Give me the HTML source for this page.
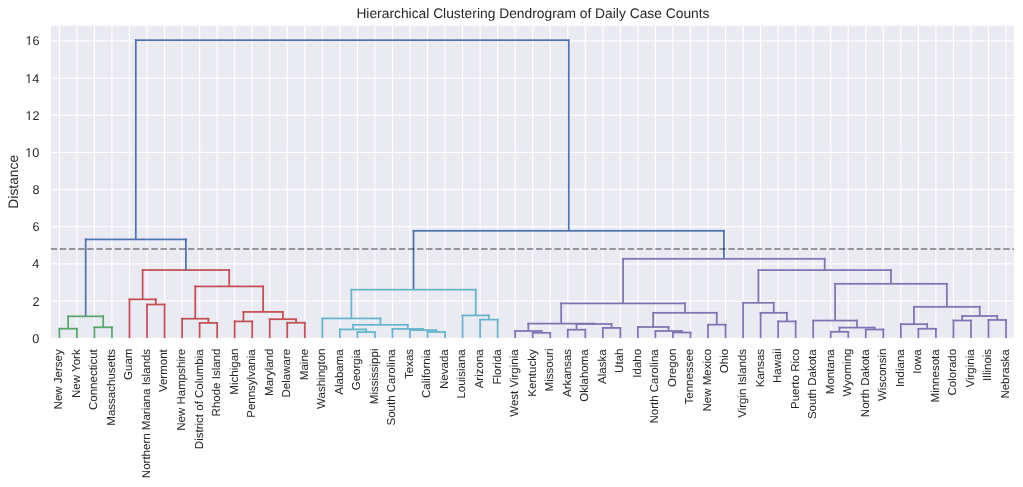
<!DOCTYPE html><html><head><meta charset="utf-8"><style>html,body{margin:0;padding:0;background:#fff;}svg{display:block;will-change:transform;}text{font-family:"Liberation Sans",sans-serif;fill:#262626;text-rendering:geometricPrecision;}</style></head><body>
<svg width="1023" height="487" viewBox="0 0 1023 487">
<rect x="0" y="0" width="1023" height="487" fill="#fff"/>
<defs><clipPath id="ax"><rect x="50.9" y="25.75" width="963.00" height="312.15"/></clipPath></defs>
<rect x="50.9" y="25.75" width="963.00" height="312.15" fill="#EAEAF2"/>
<g clip-path="url(#ax)"><g fill="#fff"><rect x="58.789" y="25.3" width="1.152" height="312.90"/><rect x="76.320" y="25.3" width="1.152" height="312.90"/><rect x="93.851" y="25.3" width="1.152" height="312.90"/><rect x="111.382" y="25.3" width="1.152" height="312.90"/><rect x="128.913" y="25.3" width="1.152" height="312.90"/><rect x="146.444" y="25.3" width="1.152" height="312.90"/><rect x="163.975" y="25.3" width="1.152" height="312.90"/><rect x="181.506" y="25.3" width="1.152" height="312.90"/><rect x="199.037" y="25.3" width="1.152" height="312.90"/><rect x="216.568" y="25.3" width="1.152" height="312.90"/><rect x="234.099" y="25.3" width="1.152" height="312.90"/><rect x="251.629" y="25.3" width="1.152" height="312.90"/><rect x="269.160" y="25.3" width="1.152" height="312.90"/><rect x="286.691" y="25.3" width="1.152" height="312.90"/><rect x="304.222" y="25.3" width="1.152" height="312.90"/><rect x="321.753" y="25.3" width="1.152" height="312.90"/><rect x="339.284" y="25.3" width="1.152" height="312.90"/><rect x="356.815" y="25.3" width="1.152" height="312.90"/><rect x="374.346" y="25.3" width="1.152" height="312.90"/><rect x="391.877" y="25.3" width="1.152" height="312.90"/><rect x="409.408" y="25.3" width="1.152" height="312.90"/><rect x="426.939" y="25.3" width="1.152" height="312.90"/><rect x="444.469" y="25.3" width="1.152" height="312.90"/><rect x="462.000" y="25.3" width="1.152" height="312.90"/><rect x="479.531" y="25.3" width="1.152" height="312.90"/><rect x="497.062" y="25.3" width="1.152" height="312.90"/><rect x="514.593" y="25.3" width="1.152" height="312.90"/><rect x="532.124" y="25.3" width="1.152" height="312.90"/><rect x="549.655" y="25.3" width="1.152" height="312.90"/><rect x="567.186" y="25.3" width="1.152" height="312.90"/><rect x="584.717" y="25.3" width="1.152" height="312.90"/><rect x="602.248" y="25.3" width="1.152" height="312.90"/><rect x="619.779" y="25.3" width="1.152" height="312.90"/><rect x="637.309" y="25.3" width="1.152" height="312.90"/><rect x="654.840" y="25.3" width="1.152" height="312.90"/><rect x="672.371" y="25.3" width="1.152" height="312.90"/><rect x="689.902" y="25.3" width="1.152" height="312.90"/><rect x="707.433" y="25.3" width="1.152" height="312.90"/><rect x="724.964" y="25.3" width="1.152" height="312.90"/><rect x="742.495" y="25.3" width="1.152" height="312.90"/><rect x="760.026" y="25.3" width="1.152" height="312.90"/><rect x="777.557" y="25.3" width="1.152" height="312.90"/><rect x="795.088" y="25.3" width="1.152" height="312.90"/><rect x="812.619" y="25.3" width="1.152" height="312.90"/><rect x="830.149" y="25.3" width="1.152" height="312.90"/><rect x="847.680" y="25.3" width="1.152" height="312.90"/><rect x="865.211" y="25.3" width="1.152" height="312.90"/><rect x="882.742" y="25.3" width="1.152" height="312.90"/><rect x="900.273" y="25.3" width="1.152" height="312.90"/><rect x="917.804" y="25.3" width="1.152" height="312.90"/><rect x="935.335" y="25.3" width="1.152" height="312.90"/><rect x="952.866" y="25.3" width="1.152" height="312.90"/><rect x="970.397" y="25.3" width="1.152" height="312.90"/><rect x="987.928" y="25.3" width="1.152" height="312.90"/><rect x="1005.459" y="25.3" width="1.152" height="312.90"/><rect x="50.6" y="337.624" width="964.20" height="1.152"/><rect x="50.6" y="300.464" width="964.20" height="1.152"/><rect x="50.6" y="263.304" width="964.20" height="1.152"/><rect x="50.6" y="226.144" width="964.20" height="1.152"/><rect x="50.6" y="188.984" width="964.20" height="1.152"/><rect x="50.6" y="151.824" width="964.20" height="1.152"/><rect x="50.6" y="114.664" width="964.20" height="1.152"/><rect x="50.6" y="77.504" width="964.20" height="1.152"/><rect x="50.6" y="40.344" width="964.20" height="1.152"/></g>
<g fill="#55A868"><rect x="58.50" y="327.84" width="19.26" height="1.73"/><rect x="58.50" y="327.84" width="1.73" height="10.36"/><rect x="76.03" y="327.84" width="1.73" height="10.36"/><rect x="93.56" y="326.44" width="19.26" height="1.73"/><rect x="93.56" y="326.44" width="1.73" height="11.76"/><rect x="111.09" y="326.44" width="1.73" height="11.76"/><rect x="67.27" y="315.44" width="36.79" height="1.73"/><rect x="67.27" y="315.44" width="1.73" height="13.26"/><rect x="102.33" y="315.44" width="1.73" height="11.86"/></g>
<g fill="#C44E52"><rect x="146.16" y="303.64" width="19.26" height="1.73"/><rect x="146.16" y="303.64" width="1.73" height="34.56"/><rect x="163.69" y="303.64" width="1.73" height="34.56"/><rect x="128.63" y="298.49" width="28.02" height="1.73"/><rect x="128.63" y="298.49" width="1.73" height="39.71"/><rect x="154.92" y="298.49" width="1.73" height="6.01"/><rect x="198.75" y="322.04" width="19.26" height="1.73"/><rect x="198.75" y="322.04" width="1.73" height="16.16"/><rect x="216.28" y="322.04" width="1.73" height="16.16"/><rect x="181.22" y="317.84" width="28.02" height="1.73"/><rect x="181.22" y="317.84" width="1.73" height="20.36"/><rect x="207.51" y="317.84" width="1.73" height="5.06"/><rect x="233.81" y="320.54" width="19.26" height="1.73"/><rect x="233.81" y="320.54" width="1.73" height="17.66"/><rect x="251.34" y="320.54" width="1.73" height="17.66"/><rect x="286.40" y="321.89" width="19.26" height="1.73"/><rect x="286.40" y="321.89" width="1.73" height="16.31"/><rect x="303.93" y="321.89" width="1.73" height="16.31"/><rect x="268.87" y="318.34" width="28.02" height="1.73"/><rect x="268.87" y="318.34" width="1.73" height="19.86"/><rect x="295.17" y="318.34" width="1.73" height="4.41"/><rect x="242.58" y="311.04" width="41.17" height="1.73"/><rect x="242.58" y="311.04" width="1.73" height="10.36"/><rect x="282.02" y="311.04" width="1.73" height="8.16"/><rect x="194.37" y="285.54" width="69.66" height="1.73"/><rect x="194.37" y="285.54" width="1.73" height="33.16"/><rect x="262.30" y="285.54" width="1.73" height="26.36"/><rect x="141.77" y="269.19" width="88.29" height="1.73"/><rect x="141.77" y="269.19" width="1.73" height="30.16"/><rect x="228.33" y="269.19" width="1.73" height="17.21"/></g>
<g fill="#4C72B0"><rect x="84.80" y="238.54" width="101.98" height="1.73"/><rect x="84.80" y="238.54" width="1.73" height="77.76"/><rect x="185.05" y="238.54" width="1.73" height="31.51"/><rect x="412.68" y="229.94" width="312.08" height="1.73"/><rect x="412.68" y="229.94" width="1.73" height="59.76"/><rect x="723.03" y="229.94" width="1.73" height="28.86"/><rect x="134.93" y="39.34" width="434.66" height="1.73"/><rect x="134.93" y="39.34" width="1.73" height="200.06"/><rect x="567.86" y="39.34" width="1.73" height="191.46"/></g>
<g fill="#64B5CD"><rect x="356.53" y="331.24" width="19.26" height="1.73"/><rect x="356.53" y="331.24" width="1.73" height="6.96"/><rect x="374.06" y="331.24" width="1.73" height="6.96"/><rect x="339.00" y="328.54" width="28.02" height="1.73"/><rect x="339.00" y="328.54" width="1.73" height="9.66"/><rect x="365.29" y="328.54" width="1.73" height="3.56"/><rect x="426.65" y="331.14" width="19.26" height="1.73"/><rect x="426.65" y="331.14" width="1.73" height="7.06"/><rect x="444.18" y="331.14" width="1.73" height="7.06"/><rect x="409.12" y="329.24" width="28.02" height="1.73"/><rect x="409.12" y="329.24" width="1.73" height="8.96"/><rect x="435.42" y="329.24" width="1.73" height="2.76"/><rect x="391.59" y="328.04" width="32.41" height="1.73"/><rect x="391.59" y="328.04" width="1.73" height="10.16"/><rect x="422.27" y="328.04" width="1.73" height="2.06"/><rect x="352.14" y="323.94" width="56.51" height="1.73"/><rect x="352.14" y="323.94" width="1.73" height="5.46"/><rect x="406.93" y="323.94" width="1.73" height="4.96"/><rect x="321.47" y="317.59" width="59.80" height="1.73"/><rect x="321.47" y="317.59" width="1.73" height="20.61"/><rect x="379.54" y="317.59" width="1.73" height="7.21"/><rect x="479.24" y="318.74" width="19.26" height="1.73"/><rect x="479.24" y="318.74" width="1.73" height="19.46"/><rect x="496.77" y="318.74" width="1.73" height="19.46"/><rect x="461.71" y="314.54" width="28.02" height="1.73"/><rect x="461.71" y="314.54" width="1.73" height="23.66"/><rect x="488.01" y="314.54" width="1.73" height="5.06"/><rect x="350.50" y="288.84" width="126.09" height="1.73"/><rect x="350.50" y="288.84" width="1.73" height="29.61"/><rect x="474.86" y="288.84" width="1.73" height="26.56"/></g>
<g fill="#8172B3"><rect x="531.84" y="331.94" width="19.26" height="1.73"/><rect x="531.84" y="331.94" width="1.73" height="6.26"/><rect x="549.37" y="331.94" width="1.73" height="6.26"/><rect x="514.31" y="330.14" width="28.02" height="1.73"/><rect x="514.31" y="330.14" width="1.73" height="8.06"/><rect x="540.60" y="330.14" width="1.73" height="2.66"/><rect x="566.90" y="328.84" width="19.26" height="1.73"/><rect x="566.90" y="328.84" width="1.73" height="9.36"/><rect x="584.43" y="328.84" width="1.73" height="9.36"/><rect x="601.96" y="327.04" width="19.26" height="1.73"/><rect x="601.96" y="327.04" width="1.73" height="11.16"/><rect x="619.49" y="327.04" width="1.73" height="11.16"/><rect x="575.66" y="323.14" width="36.79" height="1.73"/><rect x="575.66" y="323.14" width="1.73" height="6.56"/><rect x="610.73" y="323.14" width="1.73" height="4.76"/><rect x="527.45" y="322.74" width="67.47" height="1.73"/><rect x="527.45" y="322.74" width="1.73" height="8.26"/><rect x="593.19" y="322.74" width="1.73" height="1.26"/><rect x="672.08" y="331.64" width="19.26" height="1.73"/><rect x="672.08" y="331.64" width="1.73" height="6.56"/><rect x="689.61" y="331.64" width="1.73" height="6.56"/><rect x="654.55" y="330.14" width="28.02" height="1.73"/><rect x="654.55" y="330.14" width="1.73" height="8.06"/><rect x="680.85" y="330.14" width="1.73" height="2.36"/><rect x="637.02" y="326.14" width="32.41" height="1.73"/><rect x="637.02" y="326.14" width="1.73" height="12.06"/><rect x="667.70" y="326.14" width="1.73" height="4.86"/><rect x="707.15" y="323.79" width="19.26" height="1.73"/><rect x="707.15" y="323.79" width="1.73" height="14.41"/><rect x="724.68" y="323.79" width="1.73" height="14.41"/><rect x="652.36" y="311.94" width="65.28" height="1.73"/><rect x="652.36" y="311.94" width="1.73" height="15.06"/><rect x="715.91" y="311.94" width="1.73" height="12.71"/><rect x="560.32" y="302.54" width="125.54" height="1.73"/><rect x="560.32" y="302.54" width="1.73" height="21.06"/><rect x="684.14" y="302.54" width="1.73" height="10.26"/><rect x="777.27" y="320.54" width="19.26" height="1.73"/><rect x="777.27" y="320.54" width="1.73" height="17.66"/><rect x="794.80" y="320.54" width="1.73" height="17.66"/><rect x="759.74" y="311.94" width="28.02" height="1.73"/><rect x="759.74" y="311.94" width="1.73" height="26.26"/><rect x="786.03" y="311.94" width="1.73" height="9.46"/><rect x="742.21" y="301.94" width="32.41" height="1.73"/><rect x="742.21" y="301.94" width="1.73" height="36.26"/><rect x="772.89" y="301.94" width="1.73" height="10.86"/><rect x="829.86" y="330.94" width="19.26" height="1.73"/><rect x="829.86" y="330.94" width="1.73" height="7.26"/><rect x="847.39" y="330.94" width="1.73" height="7.26"/><rect x="864.92" y="328.64" width="19.26" height="1.73"/><rect x="864.92" y="328.64" width="1.73" height="9.56"/><rect x="882.45" y="328.64" width="1.73" height="9.56"/><rect x="838.63" y="326.74" width="36.79" height="1.73"/><rect x="838.63" y="326.74" width="1.73" height="5.06"/><rect x="873.69" y="326.74" width="1.73" height="2.76"/><rect x="812.33" y="319.69" width="45.56" height="1.73"/><rect x="812.33" y="319.69" width="1.73" height="18.51"/><rect x="856.16" y="319.69" width="1.73" height="7.91"/><rect x="917.52" y="327.89" width="19.26" height="1.73"/><rect x="917.52" y="327.89" width="1.73" height="10.31"/><rect x="935.05" y="327.89" width="1.73" height="10.31"/><rect x="899.99" y="323.34" width="28.02" height="1.73"/><rect x="899.99" y="323.34" width="1.73" height="14.86"/><rect x="926.28" y="323.34" width="1.73" height="5.41"/><rect x="952.58" y="319.64" width="19.26" height="1.73"/><rect x="952.58" y="319.64" width="1.73" height="18.56"/><rect x="970.11" y="319.64" width="1.73" height="18.56"/><rect x="987.64" y="319.09" width="19.26" height="1.73"/><rect x="987.64" y="319.09" width="1.73" height="19.11"/><rect x="1005.17" y="319.09" width="1.73" height="19.11"/><rect x="961.34" y="315.14" width="36.79" height="1.73"/><rect x="961.34" y="315.14" width="1.73" height="5.36"/><rect x="996.41" y="315.14" width="1.73" height="4.81"/><rect x="913.13" y="305.94" width="67.47" height="1.73"/><rect x="913.13" y="305.94" width="1.73" height="18.26"/><rect x="978.87" y="305.94" width="1.73" height="10.06"/><rect x="834.24" y="282.94" width="113.49" height="1.73"/><rect x="834.24" y="282.94" width="1.73" height="37.61"/><rect x="946.00" y="282.94" width="1.73" height="23.86"/><rect x="757.55" y="269.24" width="134.31" height="1.73"/><rect x="757.55" y="269.24" width="1.73" height="33.56"/><rect x="890.12" y="269.24" width="1.73" height="14.56"/><rect x="622.23" y="257.94" width="203.33" height="1.73"/><rect x="622.23" y="257.94" width="1.73" height="45.46"/><rect x="823.84" y="257.94" width="1.73" height="12.16"/></g>
<g fill="#000" fill-opacity="0.42"><rect x="50.60" y="248.136" width="6.39" height="1.728"/><rect x="59.76" y="248.136" width="6.39" height="1.728"/><rect x="68.92" y="248.136" width="6.39" height="1.728"/><rect x="78.08" y="248.136" width="6.39" height="1.728"/><rect x="87.24" y="248.136" width="6.39" height="1.728"/><rect x="96.40" y="248.136" width="6.39" height="1.728"/><rect x="105.56" y="248.136" width="6.39" height="1.728"/><rect x="114.72" y="248.136" width="6.39" height="1.728"/><rect x="123.88" y="248.136" width="6.39" height="1.728"/><rect x="133.04" y="248.136" width="6.39" height="1.728"/><rect x="142.20" y="248.136" width="6.39" height="1.728"/><rect x="151.36" y="248.136" width="6.39" height="1.728"/><rect x="160.52" y="248.136" width="6.39" height="1.728"/><rect x="169.68" y="248.136" width="6.39" height="1.728"/><rect x="178.84" y="248.136" width="6.39" height="1.728"/><rect x="188.00" y="248.136" width="6.39" height="1.728"/><rect x="197.16" y="248.136" width="6.39" height="1.728"/><rect x="206.32" y="248.136" width="6.39" height="1.728"/><rect x="215.48" y="248.136" width="6.39" height="1.728"/><rect x="224.64" y="248.136" width="6.39" height="1.728"/><rect x="233.80" y="248.136" width="6.39" height="1.728"/><rect x="242.96" y="248.136" width="6.39" height="1.728"/><rect x="252.12" y="248.136" width="6.39" height="1.728"/><rect x="261.28" y="248.136" width="6.39" height="1.728"/><rect x="270.44" y="248.136" width="6.39" height="1.728"/><rect x="279.60" y="248.136" width="6.39" height="1.728"/><rect x="288.76" y="248.136" width="6.39" height="1.728"/><rect x="297.92" y="248.136" width="6.39" height="1.728"/><rect x="307.08" y="248.136" width="6.39" height="1.728"/><rect x="316.24" y="248.136" width="6.39" height="1.728"/><rect x="325.40" y="248.136" width="6.39" height="1.728"/><rect x="334.56" y="248.136" width="6.39" height="1.728"/><rect x="343.72" y="248.136" width="6.39" height="1.728"/><rect x="352.88" y="248.136" width="6.39" height="1.728"/><rect x="362.04" y="248.136" width="6.39" height="1.728"/><rect x="371.20" y="248.136" width="6.39" height="1.728"/><rect x="380.36" y="248.136" width="6.39" height="1.728"/><rect x="389.52" y="248.136" width="6.39" height="1.728"/><rect x="398.68" y="248.136" width="6.39" height="1.728"/><rect x="407.84" y="248.136" width="6.39" height="1.728"/><rect x="417.00" y="248.136" width="6.39" height="1.728"/><rect x="426.16" y="248.136" width="6.39" height="1.728"/><rect x="435.32" y="248.136" width="6.39" height="1.728"/><rect x="444.48" y="248.136" width="6.39" height="1.728"/><rect x="453.64" y="248.136" width="6.39" height="1.728"/><rect x="462.80" y="248.136" width="6.39" height="1.728"/><rect x="471.96" y="248.136" width="6.39" height="1.728"/><rect x="481.12" y="248.136" width="6.39" height="1.728"/><rect x="490.28" y="248.136" width="6.39" height="1.728"/><rect x="499.44" y="248.136" width="6.39" height="1.728"/><rect x="508.60" y="248.136" width="6.39" height="1.728"/><rect x="517.76" y="248.136" width="6.39" height="1.728"/><rect x="526.92" y="248.136" width="6.39" height="1.728"/><rect x="536.08" y="248.136" width="6.39" height="1.728"/><rect x="545.24" y="248.136" width="6.39" height="1.728"/><rect x="554.40" y="248.136" width="6.39" height="1.728"/><rect x="563.56" y="248.136" width="6.39" height="1.728"/><rect x="572.72" y="248.136" width="6.39" height="1.728"/><rect x="581.88" y="248.136" width="6.39" height="1.728"/><rect x="591.04" y="248.136" width="6.39" height="1.728"/><rect x="600.20" y="248.136" width="6.39" height="1.728"/><rect x="609.36" y="248.136" width="6.39" height="1.728"/><rect x="618.52" y="248.136" width="6.39" height="1.728"/><rect x="627.68" y="248.136" width="6.39" height="1.728"/><rect x="636.84" y="248.136" width="6.39" height="1.728"/><rect x="646.00" y="248.136" width="6.39" height="1.728"/><rect x="655.16" y="248.136" width="6.39" height="1.728"/><rect x="664.32" y="248.136" width="6.39" height="1.728"/><rect x="673.48" y="248.136" width="6.39" height="1.728"/><rect x="682.64" y="248.136" width="6.39" height="1.728"/><rect x="691.80" y="248.136" width="6.39" height="1.728"/><rect x="700.96" y="248.136" width="6.39" height="1.728"/><rect x="710.12" y="248.136" width="6.39" height="1.728"/><rect x="719.28" y="248.136" width="6.39" height="1.728"/><rect x="728.44" y="248.136" width="6.39" height="1.728"/><rect x="737.60" y="248.136" width="6.39" height="1.728"/><rect x="746.76" y="248.136" width="6.39" height="1.728"/><rect x="755.92" y="248.136" width="6.39" height="1.728"/><rect x="765.08" y="248.136" width="6.39" height="1.728"/><rect x="774.24" y="248.136" width="6.39" height="1.728"/><rect x="783.40" y="248.136" width="6.39" height="1.728"/><rect x="792.56" y="248.136" width="6.39" height="1.728"/><rect x="801.72" y="248.136" width="6.39" height="1.728"/><rect x="810.88" y="248.136" width="6.39" height="1.728"/><rect x="820.04" y="248.136" width="6.39" height="1.728"/><rect x="829.20" y="248.136" width="6.39" height="1.728"/><rect x="838.36" y="248.136" width="6.39" height="1.728"/><rect x="847.52" y="248.136" width="6.39" height="1.728"/><rect x="856.68" y="248.136" width="6.39" height="1.728"/><rect x="865.84" y="248.136" width="6.39" height="1.728"/><rect x="875.00" y="248.136" width="6.39" height="1.728"/><rect x="884.16" y="248.136" width="6.39" height="1.728"/><rect x="893.32" y="248.136" width="6.39" height="1.728"/><rect x="902.48" y="248.136" width="6.39" height="1.728"/><rect x="911.64" y="248.136" width="6.39" height="1.728"/><rect x="920.80" y="248.136" width="6.39" height="1.728"/><rect x="929.96" y="248.136" width="6.39" height="1.728"/><rect x="939.12" y="248.136" width="6.39" height="1.728"/><rect x="948.28" y="248.136" width="6.39" height="1.728"/><rect x="957.44" y="248.136" width="6.39" height="1.728"/><rect x="966.60" y="248.136" width="6.39" height="1.728"/><rect x="975.76" y="248.136" width="6.39" height="1.728"/><rect x="984.92" y="248.136" width="6.39" height="1.728"/><rect x="994.08" y="248.136" width="6.39" height="1.728"/><rect x="1003.24" y="248.136" width="6.39" height="1.728"/><rect x="1012.40" y="248.136" width="2.40" height="1.728"/></g>
</g>
<text x="39.39" y="343" font-size="12.67" text-anchor="end">0</text>
<text x="39.54" y="306" font-size="12.67" text-anchor="end">2</text>
<text x="39.27" y="268" font-size="12.67" text-anchor="end">4</text>
<text x="39.46" y="231" font-size="12.67" text-anchor="end">6</text>
<text x="39.45" y="194" font-size="12.67" text-anchor="end">8</text>
<text x="39.39" y="157" font-size="12.67" text-anchor="end">10</text>
<rect x="26.000" y="156" width="2.488" height="1" fill="#fff"/>
<rect x="29.608" y="156" width="2.392" height="1" fill="#fff"/>
<text x="39.54" y="120" font-size="12.67" text-anchor="end">12</text>
<rect x="26.000" y="119" width="2.630" height="1" fill="#fff"/>
<rect x="29.750" y="119" width="2.250" height="1" fill="#fff"/>
<text x="39.27" y="83" font-size="12.67" text-anchor="end">14</text>
<rect x="26.000" y="82" width="2.364" height="1" fill="#fff"/>
<rect x="29.484" y="82" width="2.516" height="1" fill="#fff"/>
<text x="39.46" y="45" font-size="12.67" text-anchor="end">16</text>
<rect x="26.000" y="44" width="2.550" height="1" fill="#fff"/>
<rect x="29.670" y="44" width="2.330" height="1" fill="#fff"/>
<text transform="translate(62.28 349.28) rotate(-90)" font-size="11.52" text-anchor="end">New Jersey</text>
<text transform="translate(79.81 349.32) rotate(-90)" font-size="11.52" text-anchor="end">New York</text>
<text transform="translate(97.34 349.22) rotate(-90)" font-size="11.52" text-anchor="end">Connecticut</text>
<text transform="translate(114.87 348.88) rotate(-90)" font-size="11.52" text-anchor="end">Massachusetts</text>
<text transform="translate(132.40 348.54) rotate(-90)" font-size="11.52" text-anchor="end">Guam</text>
<text transform="translate(149.93 348.88) rotate(-90)" font-size="11.52" text-anchor="end">Northern Mariana Islands</text>
<text transform="translate(167.47 349.22) rotate(-90)" font-size="11.52" text-anchor="end">Vermont</text>
<text transform="translate(185.00 348.79) rotate(-90)" font-size="11.52" text-anchor="end">New Hampshire</text>
<text transform="translate(202.53 349.30) rotate(-90)" font-size="11.52" text-anchor="end">District of Columbia</text>
<text transform="translate(220.06 348.56) rotate(-90)" font-size="11.52" text-anchor="end">Rhode Island</text>
<text transform="translate(237.59 348.55) rotate(-90)" font-size="11.52" text-anchor="end">Michigan</text>
<text transform="translate(255.12 349.30) rotate(-90)" font-size="11.52" text-anchor="end">Pennsylvania</text>
<text transform="translate(272.65 348.56) rotate(-90)" font-size="11.52" text-anchor="end">Maryland</text>
<text transform="translate(290.18 348.79) rotate(-90)" font-size="11.52" text-anchor="end">Delaware</text>
<text transform="translate(307.71 348.79) rotate(-90)" font-size="11.52" text-anchor="end">Maine</text>
<text transform="translate(325.24 348.55) rotate(-90)" font-size="11.52" text-anchor="end">Washington</text>
<text transform="translate(342.77 349.30) rotate(-90)" font-size="11.52" text-anchor="end">Alabama</text>
<text transform="translate(360.31 349.30) rotate(-90)" font-size="11.52" text-anchor="end">Georgia</text>
<text transform="translate(377.84 348.52) rotate(-90)" font-size="11.52" text-anchor="end">Mississippi</text>
<text transform="translate(395.37 349.30) rotate(-90)" font-size="11.52" text-anchor="end">South Carolina</text>
<text transform="translate(412.90 348.88) rotate(-90)" font-size="11.52" text-anchor="end">Texas</text>
<text transform="translate(430.43 349.30) rotate(-90)" font-size="11.52" text-anchor="end">California</text>
<text transform="translate(447.96 349.30) rotate(-90)" font-size="11.52" text-anchor="end">Nevada</text>
<text transform="translate(465.49 349.30) rotate(-90)" font-size="11.52" text-anchor="end">Louisiana</text>
<text transform="translate(483.02 349.30) rotate(-90)" font-size="11.52" text-anchor="end">Arizona</text>
<text transform="translate(500.55 349.30) rotate(-90)" font-size="11.52" text-anchor="end">Florida</text>
<text transform="translate(518.08 349.30) rotate(-90)" font-size="11.52" text-anchor="end">West Virginia</text>
<text transform="translate(535.61 349.28) rotate(-90)" font-size="11.52" text-anchor="end">Kentucky</text>
<text transform="translate(553.15 348.52) rotate(-90)" font-size="11.52" text-anchor="end">Missouri</text>
<text transform="translate(570.68 348.88) rotate(-90)" font-size="11.52" text-anchor="end">Arkansas</text>
<text transform="translate(588.21 349.30) rotate(-90)" font-size="11.52" text-anchor="end">Oklahoma</text>
<text transform="translate(605.74 349.30) rotate(-90)" font-size="11.52" text-anchor="end">Alaska</text>
<text transform="translate(623.27 348.55) rotate(-90)" font-size="11.52" text-anchor="end">Utah</text>
<text transform="translate(640.80 348.82) rotate(-90)" font-size="11.52" text-anchor="end">Idaho</text>
<text transform="translate(658.33 349.30) rotate(-90)" font-size="11.52" text-anchor="end">North Carolina</text>
<text transform="translate(675.86 348.55) rotate(-90)" font-size="11.52" text-anchor="end">Oregon</text>
<text transform="translate(693.39 348.79) rotate(-90)" font-size="11.52" text-anchor="end">Tennessee</text>
<text transform="translate(710.92 348.82) rotate(-90)" font-size="11.52" text-anchor="end">New Mexico</text>
<text transform="translate(728.45 348.82) rotate(-90)" font-size="11.52" text-anchor="end">Ohio</text>
<text transform="translate(745.99 348.88) rotate(-90)" font-size="11.52" text-anchor="end">Virgin Islands</text>
<text transform="translate(763.52 348.88) rotate(-90)" font-size="11.52" text-anchor="end">Kansas</text>
<text transform="translate(781.05 348.52) rotate(-90)" font-size="11.52" text-anchor="end">Hawaii</text>
<text transform="translate(798.58 348.82) rotate(-90)" font-size="11.52" text-anchor="end">Puerto Rico</text>
<text transform="translate(816.11 349.30) rotate(-90)" font-size="11.52" text-anchor="end">South Dakota</text>
<text transform="translate(833.64 349.30) rotate(-90)" font-size="11.52" text-anchor="end">Montana</text>
<text transform="translate(851.17 348.56) rotate(-90)" font-size="11.52" text-anchor="end">Wyoming</text>
<text transform="translate(868.70 349.30) rotate(-90)" font-size="11.52" text-anchor="end">North Dakota</text>
<text transform="translate(886.23 348.55) rotate(-90)" font-size="11.52" text-anchor="end">Wisconsin</text>
<text transform="translate(903.76 349.30) rotate(-90)" font-size="11.52" text-anchor="end">Indiana</text>
<text transform="translate(921.29 349.30) rotate(-90)" font-size="11.52" text-anchor="end">Iowa</text>
<text transform="translate(938.83 349.30) rotate(-90)" font-size="11.52" text-anchor="end">Minnesota</text>
<text transform="translate(956.36 348.82) rotate(-90)" font-size="11.52" text-anchor="end">Colorado</text>
<text transform="translate(973.89 349.30) rotate(-90)" font-size="11.52" text-anchor="end">Virginia</text>
<text transform="translate(991.42 348.88) rotate(-90)" font-size="11.52" text-anchor="end">Illinois</text>
<text transform="translate(1008.95 349.30) rotate(-90)" font-size="11.52" text-anchor="end">Nebraska</text>
<text x="532.95" y="18.0" font-size="13.82" text-anchor="middle">Hierarchical Clustering Dendrogram of Daily Case Counts</text>
<text transform="translate(18.2 181.75) rotate(-90)" font-size="13.82" text-anchor="middle">Distance</text>
</svg></body></html>
